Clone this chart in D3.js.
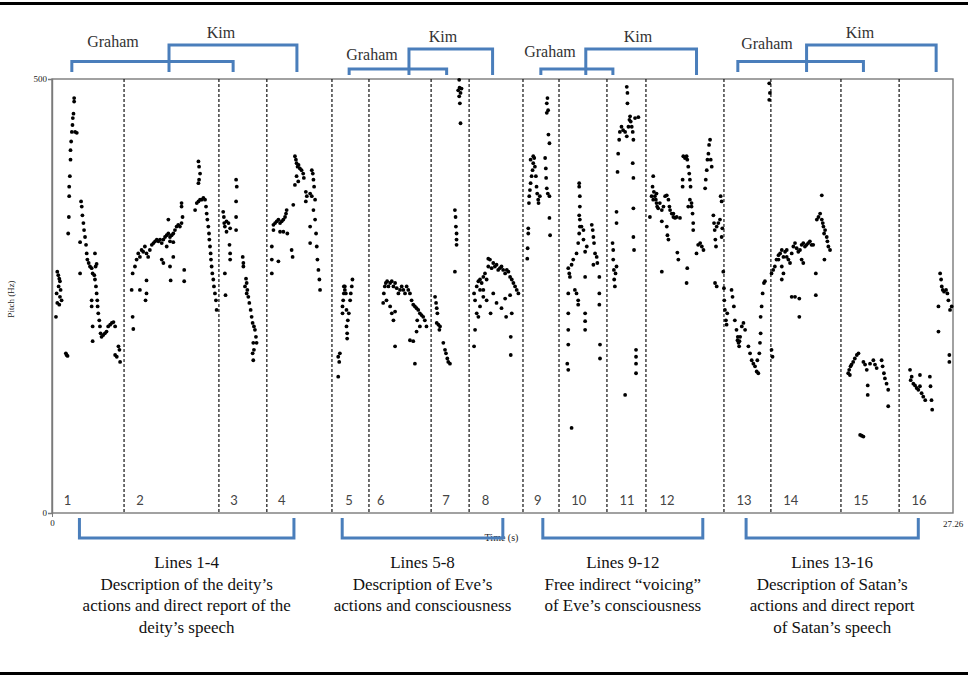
<!DOCTYPE html>
<html>
<head>
<meta charset="utf-8">
<script src="https://cdn.jsdelivr.net/npm/d3@7"></script>
<style>
  body { margin: 0; background: #fff; }
  svg { display: block; }
</style>
</head>
<body>
<svg id="pitch-chart" width="968" height="675"></svg>
<script>
// pitch track, [time (s), pitch (Hz)] per verse line
var line1 = [[0.16,278],[0.19,274],[0.22,270],[0.24,267],[0.20,261],[0.26,257],[0.14,253],[0.24,249],[0.29,245],[0.16,242],[0.22,240],[0.12,226],
  [0.42,184],[0.47,181],[0.44,182],[0.49,322],[0.51,341],[0.52,365],[0.52,376],[0.54,388],[0.56,407],[0.56,418],[0.58,428],[0.60,439],[0.62,447],
  [0.63,455],[0.65,460],[0.67,474],[0.67,478],[0.70,439],[0.75,438],[0.88,359],[0.90,353],[0.92,343],[0.95,334],[0.97,326],[1.00,318],[1.03,309],
  [1.05,299],[1.07,292],[1.11,288],[1.15,284],[1.20,282],[1.23,276],[1.28,274],[1.30,269],[1.33,261],[1.35,253],[1.37,245],[1.38,238],[1.40,230],
  [1.43,222],[1.45,215],[1.47,207],[1.50,203],[1.55,205],[1.60,207],[1.65,209],[1.70,215],[1.76,217],[1.81,219],[1.86,220],[1.91,215],[0.85,312],
  [0.85,276],[1.20,245],[1.20,238],[1.23,215],[1.23,198],[1.30,299],[1.32,284],[1.35,287],[1.91,182],[1.96,180],[2.01,192],[2.04,188],[2.06,174]];
var line2 = [[2.44,276],[2.41,257],[2.44,226],[2.46,212],[2.66,257],[2.83,245],[2.86,253],[2.86,268],[2.51,284],[2.56,292],[2.61,299],[2.66,295],
  [2.71,303],[2.76,301],[2.81,307],[2.86,299],[2.91,295],[2.96,303],[3.02,309],[3.07,311],[3.12,313],[3.17,315],[3.22,313],[3.27,315],[3.32,311],
  [3.37,315],[3.42,318],[3.47,320],[3.52,322],[3.57,318],[3.62,320],[3.67,322],[3.72,326],[3.77,330],[3.82,332],[3.87,330],[3.92,334],[3.95,341],
  [3.92,353],[3.92,357],[3.52,338],[3.32,292],[3.37,288],[3.57,284],[3.59,268],[3.67,295],[4.00,280],[4.00,267],[3.47,307],[3.57,313],[3.67,312],
  [4.33,349],[4.38,357],[4.43,359],[4.48,361],[4.53,361],[4.58,363],[4.63,361],[4.66,353],[4.68,345],[4.70,338],[4.73,330],[4.75,322],[4.76,315],
  [4.78,307],[4.80,299],[4.81,292],[4.83,284],[4.85,276],[4.88,269],[4.90,261],[4.93,253],[4.96,245],[4.98,234],[4.43,405],[4.45,399],[4.48,391],
  [4.45,384],[4.43,380]];
var line3 = [[5.18,347],[5.20,341],[5.21,334],[5.23,330],[5.28,336],[5.34,334],[5.39,328],[5.28,324],[5.23,276],[5.25,251],[5.37,309],[5.39,299],
  [5.39,292],[5.57,384],[5.59,376],[5.57,359],[5.57,341],[5.57,326],[5.77,295],[5.79,288],[5.79,284],[5.87,270],[5.89,265],[5.91,257],[5.94,249],
  [5.97,242],[6.01,234],[6.04,226],[6.07,219],[6.11,215],[6.14,211],[6.17,203],[6.09,196],[6.11,188],[6.07,184],[6.09,176],[6.19,196],[5.84,261],
  [5.89,253]];
var line4 = [[6.65,307],[6.65,292],[6.65,276],[6.70,326],[6.70,332],[6.75,334],[6.80,336],[6.85,338],[6.90,334],[6.95,336],[7.00,338],[7.05,341],
  [7.08,345],[7.10,349],[7.12,322],[7.00,324],[6.90,324],[6.85,290],[7.30,355],[7.25,303],[7.28,295],[7.35,411],[7.38,407],[7.40,403],[7.43,399],
  [7.46,401],[7.50,397],[7.55,395],[7.60,391],[7.62,386],[7.40,388],[7.45,382],[7.35,378],[7.68,370],[7.71,365],[7.68,359],[7.81,368],[7.86,365],
  [7.86,395],[7.89,391],[7.91,384],[7.93,376],[7.96,361],[7.91,349],[7.96,338],[7.99,322],[8.01,307],[8.03,292],[8.06,280],[8.09,269],[8.11,257],
  [7.81,311],[7.81,330]];
var line5 = [[8.66,180],[8.69,174],[8.71,184],[8.66,157],[8.79,238],[8.81,245],[8.83,253],[8.83,261],[8.86,257],[8.86,261],[8.89,253],[8.91,234],
  [8.91,215],[8.93,207],[8.95,222],[8.98,230],[9.02,245],[9.04,253],[9.07,261],[9.09,269],[8.79,230],[8.93,201]];
var line6 = [[10.02,242],[10.04,253],[10.07,261],[10.10,265],[10.14,267],[10.18,261],[10.23,265],[10.28,267],[10.33,261],[10.38,265],[10.43,259],
  [10.48,253],[10.53,257],[10.58,261],[10.63,257],[10.68,253],[10.73,261],[10.78,257],[10.83,253],[10.88,245],[10.93,240],[10.98,238],[11.03,236],
  [11.08,234],[11.13,230],[11.18,228],[11.23,226],[11.28,222],[10.12,245],[10.23,238],[10.28,230],[10.33,222],[10.38,232],[10.38,192],[10.83,199],
  [10.93,198],[10.98,172],[11.03,209],[11.05,222],[11.13,215],[11.33,215]];
var line7 = [[11.59,249],[11.62,242],[11.64,236],[11.66,230],[11.64,219],[11.69,217],[11.72,211],[11.74,215],[11.84,196],[11.89,188],[11.92,184],
  [11.96,178],[11.99,174],[12.04,172],[12.19,349],[12.21,341],[12.22,330],[12.24,322],[12.24,309],[12.19,278],[12.24,315],[12.29,487],[12.32,480],
  [12.34,472],[12.36,484],[12.39,489],[12.36,449],[12.32,499],[12.33,490]];
var line8 = [[12.77,253],[12.80,245],[12.85,261],[12.90,267],[12.95,269],[13.00,265],[13.05,272],[13.10,276],[13.15,269],[13.20,284],[13.25,292],
  [13.30,282],[13.35,288],[13.40,284],[13.45,286],[13.50,280],[13.55,282],[13.60,284],[13.65,280],[13.71,276],[13.76,280],[13.81,278],[13.86,272],
  [13.91,269],[13.96,265],[14.01,261],[14.06,257],[14.11,253],[12.85,230],[12.90,226],[12.80,211],[12.77,192],[12.95,238],[13.05,249],[13.15,245],
  [13.27,230],[13.35,253],[13.45,242],[13.60,236],[13.71,247],[13.74,226],[13.86,251],[13.91,230],[13.88,203],[13.88,182],[13.20,293],[13.05,257],
  [12.95,257]];
var line9 = [[14.38,293],[14.39,305],[14.41,322],[14.41,328],[14.43,357],[14.44,365],[14.46,372],[14.48,380],[14.51,388],[14.54,395],[14.56,403],
  [14.59,409],[14.61,399],[14.64,388],[14.66,376],[14.68,368],[14.71,361],[14.72,357],[14.76,365],[14.92,409],[14.94,397],[14.95,386],[14.97,374],
  [15.00,368],[15.05,365],[15.05,340],[15.07,320],[15.02,436],[15.05,426],[14.97,472],[14.99,478],[15.01,464],[14.97,461],[14.48,407],[14.56,411]];
var line10 = [[15.62,282],[15.65,276],[15.67,272],[15.62,253],[15.62,230],[15.62,211],[15.62,194],[15.59,172],[15.62,165],[15.72,286],[15.77,292],
  [15.82,257],[15.87,253],[15.92,245],[15.92,240],[15.87,299],[15.92,311],[15.95,322],[15.97,330],[15.97,338],[15.95,343],[15.97,353],[15.97,365],
  [15.95,376],[15.95,380],[16.02,330],[16.08,326],[16.08,315],[16.13,301],[16.13,272],[16.13,230],[16.13,221],[16.13,211],[16.18,307],[16.33,332],
  [16.36,326],[16.38,318],[16.40,311],[16.43,299],[16.48,295],[16.50,288],[16.56,272],[16.56,253],[16.56,240],[16.58,194],[16.58,178],[16.38,286],
  [15.72,98]];
var line11 = [[16.96,311],[16.98,303],[16.98,292],[17.00,280],[17.01,269],[17.03,261],[17.05,276],[17.08,284],[17.08,347],[17.08,334],[17.11,393],
  [17.13,414],[17.16,430],[17.18,439],[17.23,445],[17.28,441],[17.34,439],[17.39,434],[17.44,445],[17.47,453],[17.49,457],[17.51,451],[17.54,445],
  [17.57,439],[17.59,430],[17.64,455],[17.74,456],[17.39,491],[17.41,484],[17.41,472],[17.57,403],[17.59,386],[17.59,351],[17.59,318],[17.61,303],
  [17.67,188],[17.67,180],[17.67,172],[17.67,161],[17.34,136]];
var line12 = [[18.09,341],[18.14,365],[18.17,376],[18.19,388],[18.21,370],[18.24,365],[18.27,361],[18.29,357],[18.31,353],[18.34,351],[18.39,357],
  [18.45,349],[18.45,336],[18.50,353],[18.55,365],[18.60,366],[18.65,361],[18.68,353],[18.70,349],[18.75,345],[18.80,341],[18.85,340],[18.90,341],
  [18.60,330],[18.62,320],[18.65,315],[18.45,278],[18.92,300],[18.95,292],[19.00,340],[19.08,384],[19.08,376],[19.10,411],[19.15,409],[19.20,411],
  [19.22,407],[19.25,399],[19.28,391],[19.30,384],[19.32,376],[19.30,361],[19.35,353],[19.38,345],[19.40,334],[19.40,326],[19.22,282],[19.20,265],
  [19.50,299],[19.55,309],[19.61,311],[19.66,307],[19.71,303],[19.76,374],[19.78,384],[19.81,395],[19.83,407],[19.86,414],[19.88,424],[19.91,430],
  [19.93,407],[19.96,399],[20.01,343],[20.03,334],[20.05,326],[20.07,315],[20.09,307],[20.11,330],[20.16,334],[20.21,338],[20.23,365],[20.26,359],
  [20.28,328],[20.26,318],[20.06,265],[20.11,261],[19.25,353],[19.35,357],[18.29,368],[18.19,361],[18.80,345]];
var line13 = [[20.31,278],[20.33,259],[20.34,245],[20.36,234],[20.39,222],[20.41,217],[20.56,257],[20.59,249],[20.63,238],[20.66,222],[20.71,211],
  [20.75,203],[20.77,196],[20.79,192],[20.82,203],[20.87,215],[20.92,219],[20.97,211],[21.07,192],[21.12,184],[21.17,176],[21.22,172],[21.27,169],
  [21.32,163],[21.37,161],[21.34,176],[21.40,184],[21.42,196],[21.44,207],[21.44,226],[21.47,238],[21.50,253],[21.54,265],[21.57,267],[21.70,495],
  [21.72,484],[21.70,476],[20.74,199],[20.80,198],[20.43,230]];
var line14 = [[21.77,188],[21.80,180],[21.77,276],[21.82,280],[21.87,284],[21.92,292],[21.98,297],[22.03,299],[22.08,303],[22.13,295],[22.18,301],
  [22.23,295],[22.28,292],[22.33,288],[22.38,299],[22.43,307],[22.48,311],[22.53,305],[22.58,301],[22.63,303],[22.68,309],[22.73,311],[22.78,307],
  [22.83,309],[22.88,311],[22.93,313],[22.98,309],[23.03,309],[22.08,284],[22.13,276],[22.08,269],[22.38,249],[22.48,249],[22.61,247],[22.61,226],
  [22.68,292],[22.73,288],[23.11,276],[23.11,251],[23.14,338],[23.19,341],[23.24,345],[23.29,338],[23.32,334],[23.34,330],[23.36,322],[23.39,326],
  [23.44,318],[23.46,313],[23.49,307],[23.54,303],[23.29,366],[23.37,292],[21.98,292],[22.23,303]];
var line15 = [[24.09,161],[24.12,165],[24.16,169],[24.19,171],[24.24,174],[24.29,178],[24.35,182],[24.40,184],[24.14,159],[24.55,174],[24.60,171],
  [24.65,165],[24.68,147],[24.68,136],[24.75,172],[24.85,176],[24.90,171],[24.95,167],[25.10,176],[25.13,169],[25.17,161],[25.20,155],[25.25,149],
  [25.30,142],[25.30,123],[24.45,90],[24.50,89],[24.55,88]];
var line16 = [[25.96,165],[26.01,157],[26.06,149],[26.11,147],[26.16,144],[26.21,142],[26.26,159],[26.31,138],[26.36,134],[26.42,130],[26.26,146],
  [26.56,157],[26.58,146],[26.61,130],[26.63,119],[25.98,153],[26.87,276],[26.90,269],[26.92,261],[26.95,257],[26.99,255],[27.05,257],[27.09,253],
  [27.12,245],[27.17,234],[27.22,238],[26.82,238],[26.82,209],[27.15,182],[27.15,174]];

// dashed boundaries between verse lines (s)
var boundaries = [2.18, 5.05, 6.50, 8.47, 9.59, 11.47, 12.62, 14.25, 15.34, 16.79, 17.97, 20.33, 21.75, 23.87, 25.63];
var lineLabels = ["1","2","3","4","5","6","7","8","9","10","11","12","13","14","15","16"];
var labelTimes = [0.47, 2.66, 5.51, 6.95, 8.99, 9.95, 11.92, 13.12, 14.70, 15.94, 17.40, 18.61, 20.94, 22.35, 24.48, 26.23];

// who is reading, [start, end] (s)
var grahamSpans = [[0.60, 5.48], [8.99, 11.94], [14.79, 16.97], [20.75, 24.55]];
var kimSpans = [[3.54, 7.41], [10.80, 13.33], [16.15, 19.50], [22.83, 26.75]];

// section groupings below the axis
var sectionSpans = [[0.83, 7.32], [8.78, 13.64], [14.85, 19.69], [21.00, 26.21]];
var sectionText = [
  ["Lines 1-4", "Description of the deity\u2019s", "actions and direct report of the", "deity\u2019s speech"],
  ["Lines 5-8", "Description of Eve\u2019s", "actions and consciousness"],
  ["Lines 9-12", "Free indirect \u201cvoicing\u201d", "of Eve\u2019s consciousness"],
  ["Lines 13-16", "Description of Satan\u2019s", "actions and direct report", "of Satan\u2019s speech"]
];

var tMax = 27.26, hzMax = 500;

var svg = d3.select("#pitch-chart"),
    margin = { top: 79, right: 15, bottom: 162, left: 52 },
    width = +svg.attr("width") - margin.left - margin.right,
    height = +svg.attr("height") - margin.top - margin.bottom;

var xScale = d3.scaleLinear().domain([0, tMax]).range([0, width]),
    yScale = d3.scaleLinear().domain([0, hzMax]).range([height, 0]);

var blue = "#4a7ebb";
var serif = "'Liberation Serif', 'Times New Roman', serif";
var sans = "Lato, 'Open Sans', sans-serif";

// rules top and bottom of the figure
svg.append("rect").attr("x", 0).attr("y", 2).attr("width", 968).attr("height", 3).attr("fill", "#000");
svg.append("rect").attr("x", 0).attr("y", 672).attr("width", 968).attr("height", 3).attr("fill", "#000");

var g = svg.append("g")
    .attr("transform", "translate(" + margin.left + "," + margin.top + ")");

// plot frame
g.append("rect")
    .attr("width", width).attr("height", height)
    .attr("fill", "none").attr("stroke", "#7a7a7a").attr("stroke-width", 1.4);

// y axis (only 0 and 500)
var yAxis = g.append("g")
    .call(d3.axisLeft(yScale).tickValues([0, hzMax]).tickSize(4).tickPadding(1));
yAxis.select(".domain").attr("stroke", "#7a7a7a").attr("stroke-width", 1.4);
yAxis.selectAll(".tick line").attr("stroke", "#7a7a7a");
yAxis.selectAll(".tick text").attr("font-family", serif).attr("font-size", "9px").attr("fill", "#222");

// x axis end labels
var xAxis = g.append("g")
    .attr("transform", "translate(0," + height + ")")
    .call(d3.axisBottom(xScale).tickValues([0]).tickSize(4).tickPadding(3));
xAxis.select(".domain").remove();
xAxis.selectAll(".tick line").attr("stroke", "#7a7a7a");
xAxis.selectAll(".tick text").attr("font-family", serif).attr("font-size", "9px").attr("fill", "#222");

g.append("text")
    .attr("x", xScale(tMax)).attr("y", height + 14)
    .attr("text-anchor", "middle")
    .attr("font-family", serif).attr("font-size", "9px").attr("fill", "#222")
    .text("27.26");

g.append("text")
    .attr("transform", "translate(-38," + (height / 2 + 3) + ") rotate(-90)")
    .attr("text-anchor", "middle")
    .attr("font-family", serif).attr("font-size", "9px").attr("fill", "#222")
    .text("Pitch (Hz)");

g.append("text")
    .attr("x", xScale(13.6)).attr("y", height + 28)
    .attr("text-anchor", "middle")
    .attr("font-family", serif).attr("font-size", "10px").attr("fill", "#222")
    .text("Time (s)");

// dashed line boundaries
g.selectAll(".boundary")
    .data(boundaries)
    .enter().append("line")
    .attr("class", "boundary")
    .attr("x1", d => xScale(d)).attr("x2", d => xScale(d))
    .attr("y1", 0).attr("y2", height)
    .attr("stroke", "#111").attr("stroke-width", 1.2)
    .attr("stroke-dasharray", "3,2");

// line numbers
g.selectAll(".line-num")
    .data(lineLabels)
    .enter().append("text")
    .attr("class", "line-num")
    .attr("x", (d, i) => xScale(labelTimes[i]))
    .attr("y", height - 8)
    .attr("text-anchor", "middle")
    .attr("font-family", sans).attr("font-size", "13px").attr("fill", "#444")
    .text(d => d);

// pitch points
var allLines = [line1, line2, line3, line4, line5, line6, line7, line8,
                line9, line10, line11, line12, line13, line14, line15, line16];
var points = allLines.flat();

g.selectAll(".pt")
    .data(points)
    .enter().append("circle")
    .attr("class", "pt")
    .attr("cx", d => xScale(d[0]))
    .attr("cy", d => yScale(d[1]))
    .attr("r", 1.9)
    .attr("fill", "#000");

// speaker brackets above the plot
var topLevels = [
  { graham: 61.5, kim: 45, foot: 72, gText: 47, kText: 38, gX: 113, kX: 221 },
  { graham: 69, kim: 49, foot: 75, gText: 60, kText: 42, gX: 372, kX: 443 },
  { graham: 69, kim: 49, foot: 75, gText: 57, kText: 42, gX: 550, kX: 638 },
  { graham: 61.5, kim: 45, foot: 72, gText: 49, kText: 38, gX: 767, kX: 860 }
];

function bracketPath(x0, x1, yBar, yFoot) {
  return "M" + x0 + "," + yFoot + "V" + yBar + "H" + x1 + "V" + yFoot;
}

var topG = svg.append("g");
grahamSpans.forEach(function (s, i) {
  var lv = topLevels[i];
  topG.append("path")
      .attr("d", bracketPath(margin.left + xScale(s[0]), margin.left + xScale(s[1]), lv.graham, lv.foot))
      .attr("fill", "none").attr("stroke", blue).attr("stroke-width", 3);
  topG.append("text")
      .attr("x", lv.gX).attr("y", lv.gText)
      .attr("text-anchor", "middle")
      .attr("font-family", serif).attr("font-size", "16px").attr("fill", "#333")
      .text("Graham");
});
kimSpans.forEach(function (s, i) {
  var lv = topLevels[i];
  topG.append("path")
      .attr("d", bracketPath(margin.left + xScale(s[0]), margin.left + xScale(s[1]), lv.kim, lv.foot))
      .attr("fill", "none").attr("stroke", blue).attr("stroke-width", 3);
  topG.append("text")
      .attr("x", lv.kX).attr("y", lv.kText)
      .attr("text-anchor", "middle")
      .attr("font-family", serif).attr("font-size", "16px").attr("fill", "#333")
      .text("Kim");
});

// section brackets and descriptions below the plot
var bottomG = svg.append("g");
sectionSpans.forEach(function (s, i) {
  var x0 = margin.left + xScale(s[0]), x1 = margin.left + xScale(s[1]);
  bottomG.append("path")
      .attr("d", "M" + x0 + ",518V538H" + x1 + "V518")
      .attr("fill", "none").attr("stroke", blue).attr("stroke-width", 3);
  var cx = (x0 + x1) / 2;
  bottomG.append("text")
      .attr("text-anchor", "middle")
      .attr("font-family", serif).attr("font-size", "17px").attr("fill", "#111")
      .selectAll("tspan")
      .data(sectionText[i])
      .enter().append("tspan")
      .attr("x", cx)
      .attr("y", (d, j) => 568 + j * 21.5)
      .text(d => d);
});
</script>
</body>
</html>
